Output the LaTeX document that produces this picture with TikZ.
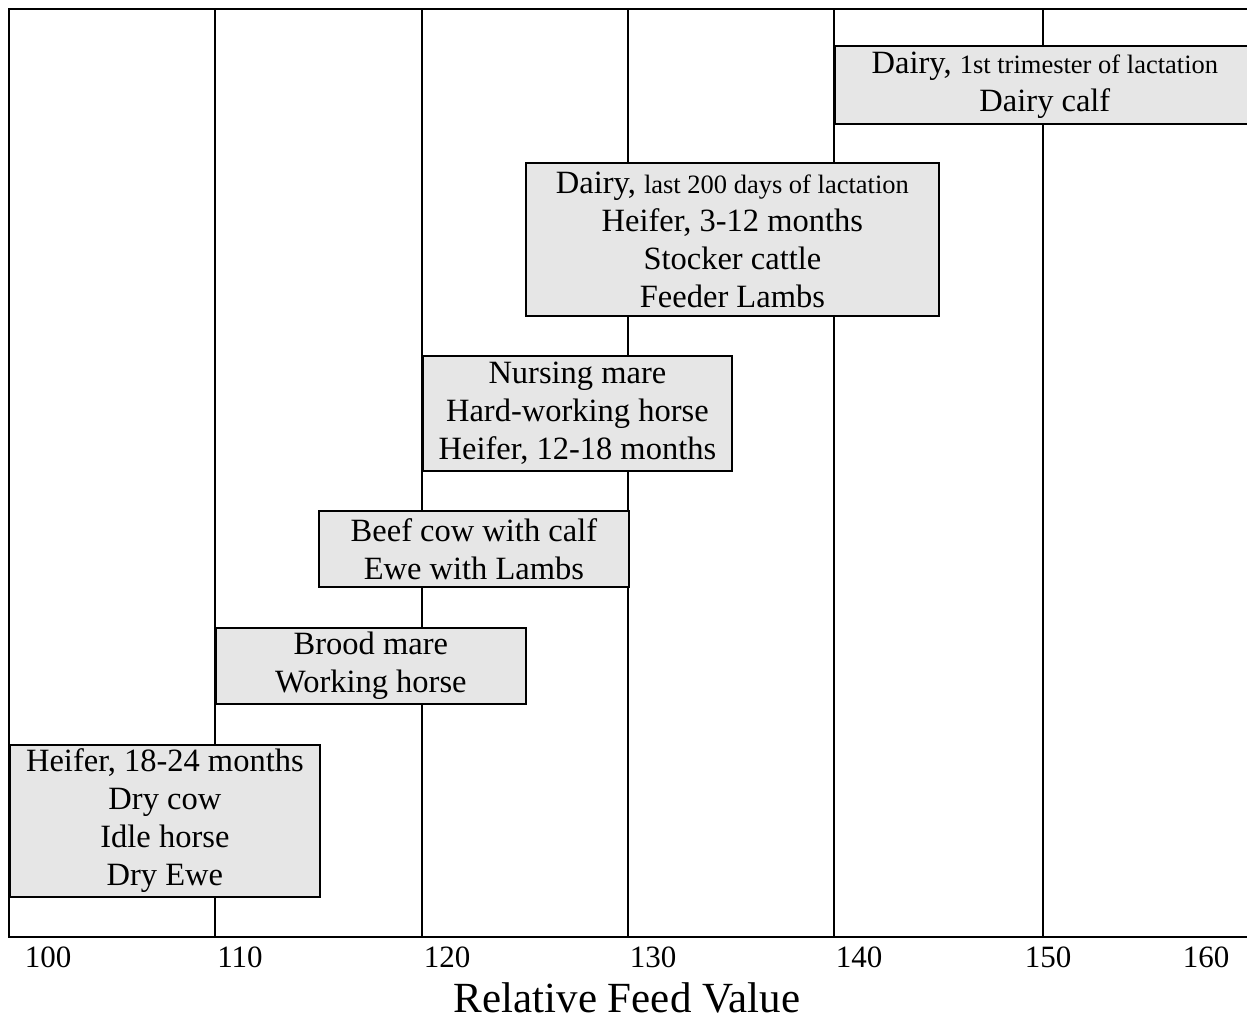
\documentclass[tikz,border=0pt]{standalone}
\usepackage{fontspec}
\setmainfont{Liberation Serif}
\tikzset{
  band/.style={draw, line width=1.8pt, fill={rgb,255:red,230;green,230;blue,230}, anchor=north west, inner sep=0pt, align=center, font=\fontsize{32.5}{38}\selectfont},
  ticklabel/.style={inner sep=0.75pt, font=\fontsize{31}{34}\selectfont}
}
\newcommand{\sm}[1]{{\fontsize{26.5}{38}\selectfont #1}}
\begin{document}
\begin{tikzpicture}[x=1pt,y=1pt,yscale=-1,xscale=1]
\useasboundingbox (0,0) rectangle (1247,1021);

%Grid lines
\foreach \gx in {215,422,628,834,1043}
  \draw [line width=1.8pt] (\gx,9) -- (\gx,937);
%Shape: Frame
\draw [line width=2.6pt] (1260,9) -- (9,9) -- (9,937) -- (1260,937);

%Shape: Bands
\node [band, minimum width=420, minimum height=78] (dairyA) at (834,45)
  {Dairy, \sm{1st trimester of lactation}\\Dairy calf};
\node [band, minimum width=413, minimum height=153] (dairyB) at (525,162)
  {Dairy, \sm{last 200 days of lactation}\\Heifer, 3-12 months\\Stocker cattle\\Feeder Lambs};
\node [band, minimum width=309, minimum height=115] (mare) at (422,355)
  {Nursing mare\\Hard-working horse\\Heifer, 12-18 months};
\node [band, minimum width=310, minimum height=76] (beef) at (318,510)
  {Beef cow with calf\\Ewe with Lambs};
\node [band, minimum width=310, minimum height=76] (brood) at (215,627)
  {Brood mare\\Working horse};
\node [band, minimum width=310, minimum height=152] (dry) at (9,744)
  {Heifer, 18-24 months\\Dry cow\\Idle horse\\Dry Ewe};

% Text Node
\node [ticklabel] (t100) at (48,957) {100};
\node [ticklabel] (t110) at (240,957) {110};
\node [ticklabel] (t120) at (447,957) {120};
\node [ticklabel] (t130) at (653,957) {130};
\node [ticklabel] (t140) at (859,957) {140};
\node [ticklabel] (t150) at (1048,957) {150};
\node [ticklabel] (t160) at (1206,957) {160};
% Text Node
\node [inner sep=0.75pt, font=\fontsize{43}{48}\selectfont] (axis) at (627,998) {Relative Feed Value};

\end{tikzpicture}
\end{document}
